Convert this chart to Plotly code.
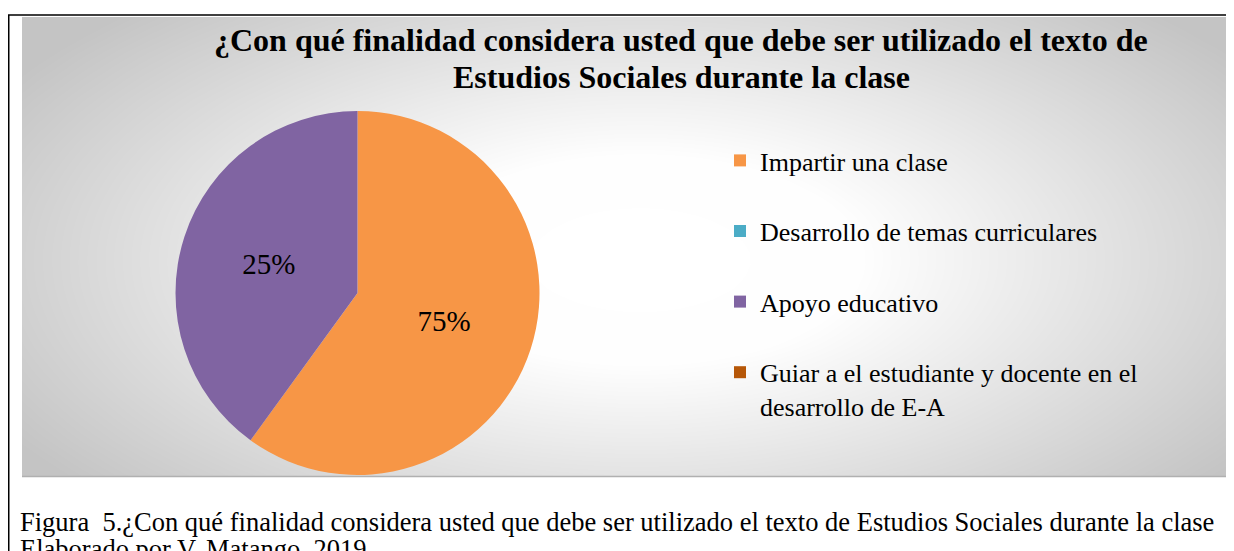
import numpy as np
import plotly.graph_objects as go

# ---- data ----
categories = [
    "Impartir una clase",
    "Desarrollo de temas curriculares",
    "Apoyo educativo",
    "Guiar a el estudiante y docente en el<br>desarrollo de E-A",
]
slice_values = [60, 0, 40, 0]          # slice sizes as drawn
label_texts = ["75%", "", "25%", ""]   # data labels as printed
slice_colors = ["#F79646", "#4BACC6", "#8064A2", "#B65708"]

title_line1 = "<b>¿Con qué finalidad considera usted que debe ser utilizado el texto de</b>"
title_line2 = "<b>Estudios Sociales durante la clase</b>"
caption_line1 = ("Figura  5.¿Con qué finalidad considera usted que debe ser utilizado "
                 "el texto de Estudios Sociales durante la clase")
caption_line2 = "Elaborado por V. Matango, 2019"

# the page adds an 8px body margin, so the figure is placed at (8, 8)
OFF = 8
PW, PH = 1234, 551
FW, FH = PW - OFF, PH - OFF
SERIF = "Liberation Serif, Times New Roman, serif"


def px(x):  # page pixel -> paper
    return (x - OFF) / FW


def py(y):
    return 1 - (y - OFF) / FH


# chart area (page pixel box)
AX0, AX1, AY0, AY1 = 22, 1231, 17, 476

# ---- background radial gradient (styling) ----
nx, ny = 80, 40
gx = np.linspace(AX0, AX1, nx)
gy = np.linspace(AY0, AY1, ny)
GX, GY = np.meshgrid(gx, gy)
cx, cy, ax_, ay_ = 640, 260, 700, 330
dist = np.sqrt(((GX - cx) / ax_) ** 2 + ((GY - cy) / ay_) ** 2)
bg = go.Heatmap(
    x=gx, y=gy, z=dist, zmin=0, zmax=1.05, zsmooth="best",
    colorscale=[[0, "#ffffff"], [0.3, "#fefefe"], [1, "#c4c4c4"]],
    showscale=False, hoverinfo="skip", xaxis="x", yaxis="y",
)

# ---- pie ----
PCX, PCY, PR = 357.5, 293, 182
pie = go.Pie(
    labels=[c + ("<br> " if i < 3 else "") for i, c in enumerate(categories)],
    values=slice_values,
    text=label_texts,
    textinfo="text",
    textposition="inside",
    insidetextorientation="horizontal",
    textfont=dict(family=SERIF, size=29, color="black"),
    marker=dict(colors=slice_colors, line=dict(width=0)),
    sort=False,
    direction="clockwise",
    rotation=0,
    domain=dict(x=[px(PCX - PR), px(PCX + PR)], y=[py(PCY + PR), py(PCY - PR)]),
    hoverinfo="label+percent",
)

fig = go.Figure([bg, pie])

shapes = [
    # outer black frame
    dict(type="rect", xref="paper", yref="paper", x0=px(8.75), x1=px(1250),
         y0=py(580), y1=py(15), line=dict(color="black", width=1.5), layer="above"),
    # chart area shadow lines
    dict(type="line", xref="paper", yref="paper", x0=px(AX0), x1=px(AX1),
         y0=py(AY1 + 0.5), y1=py(AY1 + 0.5), line=dict(color="#b0b0b0", width=1.5)),
    dict(type="line", xref="paper", yref="paper", x0=px(AX1), x1=px(AX1),
         y0=py(AY1), y1=py(AY0), line=dict(color="#c0c0c0", width=1)),
    # legend box
    dict(type="rect", xref="paper", yref="paper", x0=px(680), x1=px(1178),
         y0=py(426), y1=py(141), fillcolor="rgba(242,242,242,0.52)",
         line=dict(width=0), layer="below"),
]


def text_ann(txt, x, y_bottom, size, xanchor="left"):
    return dict(text=txt, x=px(x), xanchor=xanchor, y=py(y_bottom), yanchor="bottom",
                xref="paper", yref="paper", showarrow=False,
                align="center" if xanchor == "center" else "left",
                font=dict(family=SERIF, size=size, color="black"))


fig.update_layout(
    width=FW, height=FH,
    margin=dict(l=0, r=0, t=0, b=0),
    paper_bgcolor="white",
    plot_bgcolor="rgba(0,0,0,0)",
    xaxis=dict(domain=[px(AX0), px(AX1)], range=[AX0, AX1], visible=False, fixedrange=True),
    yaxis=dict(domain=[py(AY1), py(AY0)], range=[AY1, AY0], visible=False, fixedrange=True),
    legend=dict(x=px(720), xanchor="left", y=py(137), yanchor="top",
                font=dict(family=SERIF, size=26, color="black"),
                bgcolor="rgba(0,0,0,0)", valign="top", traceorder="normal"),
    shapes=shapes,
    annotations=[
        text_ann(title_line1, 681, 60, 32, "center"),
        text_ann(title_line2, 681, 97, 32, "center"),
        text_ann(caption_line1, 18, 539, 26.5),
        text_ann(caption_line2, 18, 566, 26.5),
    ],
)

fig.write_html("out.html")
